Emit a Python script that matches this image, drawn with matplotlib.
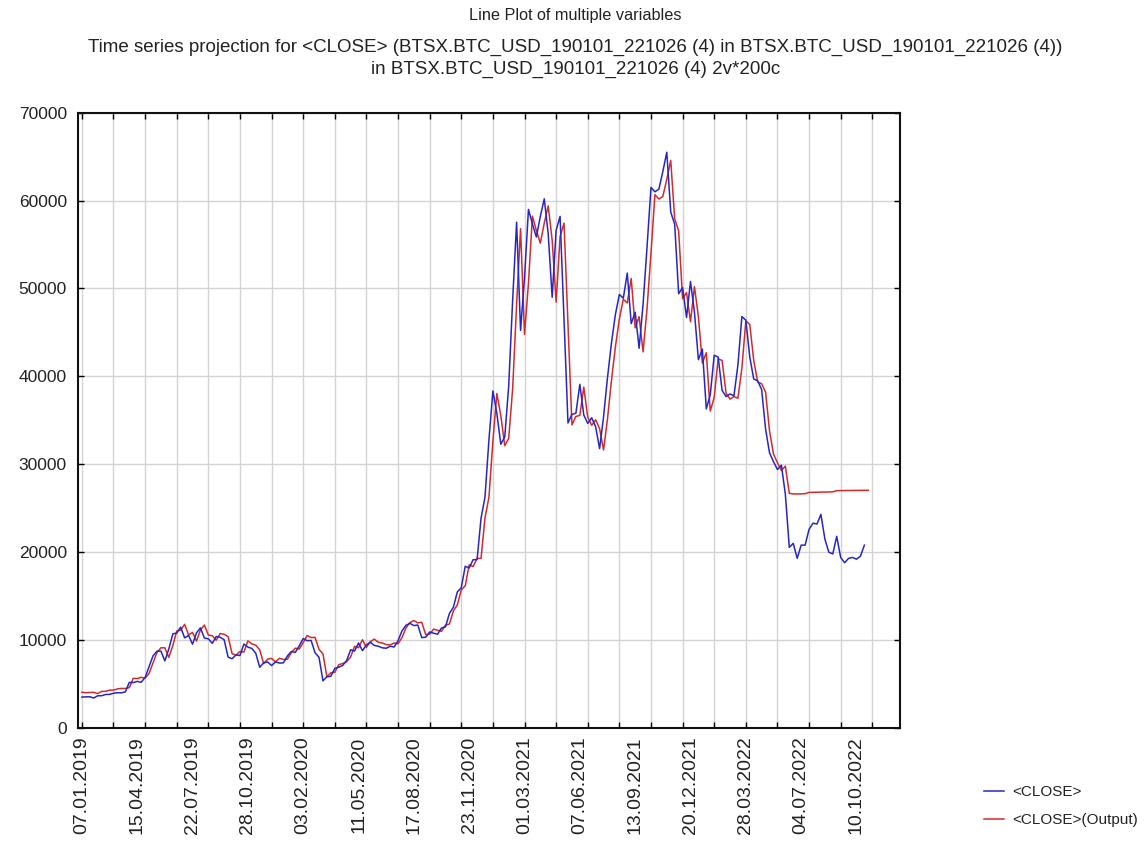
import numpy as np
import matplotlib
matplotlib.use("Agg")
import matplotlib.pyplot as plt

# weekly <CLOSE>, one value per case (week starting 07.01.2019)
close = [
    3510, 3540, 3550, 3410, 3660, 3670, 3810, 3820, 3950, 4010,
    4000, 4100, 5190, 5160, 5300, 5200, 5750, 6970, 8200, 8740,
    8740, 7630, 8990, 10700, 10800, 11470, 10250, 10530, 9530, 10820,
    11390, 10230, 10140, 9630, 10400, 10320, 10040, 8060, 7880, 8310,
    8240, 9550, 9200, 9050, 8500, 6900, 7420, 7510, 7100, 7520,
    7380, 7410, 8190, 8700, 8600, 9340, 10170, 9930, 9960, 8560,
    8040, 5360, 5830, 5880, 6780, 6910, 7120, 7680, 8900, 8750,
    9670, 8790, 9460, 9750, 9390, 9300, 9120, 9070, 9300, 9210,
    9930, 11050, 11680, 11910, 11650, 11710, 10280, 10330, 10920, 10780,
    10670, 11380, 11500, 13030, 13740, 15480, 15960, 18400, 18200, 19150,
    19150, 23860, 26270, 32780, 38350, 35790, 32280, 33110, 38900, 48700,
    57540, 45240, 51200, 59000, 57350, 55850, 58200, 60200, 56200, 49000,
    56620, 58200, 46400, 34700, 35680, 35800, 39100, 35600, 34650, 35290,
    34260, 31780, 35400, 39870, 43800, 47050, 49320, 48900, 51750, 46000,
    47300, 43200, 48200, 54700, 61500, 61000, 61300, 63300, 65500, 58700,
    57300, 49400, 50100, 46700, 50800, 47300, 41900, 43100, 36300, 37900,
    42400, 42200, 38400, 37700, 38000, 37800, 41300, 46800, 46400, 42200,
    39700, 39500, 38500, 34000, 31300, 30300, 29400, 29900, 26600, 20550,
    21000, 19300, 20800, 20800, 22600, 23300, 23200, 24300, 21500, 20000,
    19800, 21800, 19400, 18800, 19300, 19400, 19200, 19550, 20800,
]

# model output for <CLOSE>, 200 cases
close_output = [
    4060, 4010, 4040, 4050, 3910, 4160, 4170, 4300, 4310, 4440,
    4500, 4490, 4590, 5650, 5620, 5760, 5660, 6200, 7390, 8590,
    9120, 9120, 8030, 9360, 11030, 11130, 11790, 10590, 10870, 9890,
    11150, 11710, 10570, 10490, 9990, 10740, 10660, 10390, 8460, 8280,
    8700, 8630, 9910, 9570, 9420, 8880, 7320, 7830, 7920, 7520,
    7930, 7790, 7820, 8580, 9080, 8980, 9700, 10520, 10280, 10310,
    8940, 8440, 5820, 6280, 6330, 7200, 7330, 7540, 8080, 9280,
    9130, 10030, 9170, 9820, 10110, 9750, 9670, 9490, 9440, 9670,
    9580, 10280, 11380, 11990, 12220, 11960, 12020, 10620, 10670, 11250,
    11110, 11000, 11700, 11820, 13310, 14000, 15700, 16170, 18560, 18360,
    19290, 19290, 23890, 26250, 32610, 38050, 35550, 32120, 32930, 38590,
    48160, 56800, 44780, 50600, 58220, 56610, 55150, 57440, 59400, 55490,
    48450, 55900, 57440, 45910, 34480, 35440, 35560, 38780, 35360, 34430,
    35060, 34050, 31630, 35170, 39530, 43370, 46550, 48770, 48360, 51140,
    45520, 46790, 42790, 47670, 54020, 60670, 60180, 60470, 62420, 64570,
    57930, 56560, 48840, 49530, 46210, 50210, 46790, 41520, 42690, 36050,
    37610, 42000, 41810, 38100, 37410, 37710, 37510, 40930, 46300, 45910,
    41810, 39370, 39170, 38200, 33800, 31160, 30180, 29300, 29790, 26700,
    26620, 26620, 26630, 26650, 26800, 26810, 26820, 26830, 26840, 26850,
    26860, 27000, 27010, 27010, 27020, 27020, 27030, 27030, 27040, 27040,
]

# case names shown on the x axis (every 14th case)
case_labels = [
    "07.01.2019", "15.04.2019", "22.07.2019", "28.10.2019", "03.02.2020",
    "11.05.2020", "17.08.2020", "23.11.2020", "01.03.2021", "07.06.2021",
    "13.09.2021", "20.12.2021", "28.03.2022", "04.07.2022", "10.10.2022",
]
label_step = 14

plt.rcParams["font.family"] = ["Liberation Sans", "DejaVu Sans"]
INK = "#222222"

fig = plt.figure(figsize=(11.46, 8.41), dpi=100)
ax = fig.add_axes([0.068, 0.1344, 0.7173, 0.7316])

x_close = np.arange(1, len(close) + 1)
x_out = np.arange(1, len(close_output) + 1)
ln1, = ax.plot(x_close, close, color="#2626c8", linewidth=1.1, zorder=3)
ln2, = ax.plot(x_out, close_output, color="#d42a2a", linewidth=1.1, zorder=2)

ax.set_xlim(0, 208)
ax.set_ylim(0, 70000)

# grid every 8 cases, case names every 14
ax.xaxis.remove_overlapping_locs = False
ax.set_xticks(np.arange(1, 208, 8))
ax.set_xticklabels([])
label_pos = np.arange(1, 1 + label_step * len(case_labels), label_step)
ax.set_xticks(label_pos, minor=True)
ax.set_xticklabels(case_labels, minor=True, rotation=90, fontsize=14, color=INK)
ax.tick_params(axis="x", which="minor", length=0, pad=6)
ax.tick_params(axis="x", which="major", direction="in", length=4,
               top=True, width=1.0)

ax.set_yticks(np.arange(0, 70001, 10000))
ax.set_yticklabels([f"{v:d}" for v in range(0, 70001, 10000)],
                   fontsize=12.5, color=INK)
ax.tick_params(axis="y", direction="in", length=4, right=True, width=1.0, pad=8)

ax.grid(True, which="major", color="#d4d4d4", linewidth=1.0)
ax.set_axisbelow(True)
for sp in ax.spines.values():
    sp.set_linewidth(1.5)
    sp.set_color("#111111")

fig.text(0.502, 0.982, "Line Plot of multiple variables", ha="center",
         va="center", fontsize=11.7, color=INK)
fig.text(0.502, 0.944,
         "Time series projection for <CLOSE> (BTSX.BTC_USD_190101_221026 (4) "
         "in BTSX.BTC_USD_190101_221026 (4))",
         ha="center", va="center", fontsize=13.5, color=INK)
fig.text(0.502, 0.918, "in BTSX.BTC_USD_190101_221026 (4) 2v*200c",
         ha="center", va="center", fontsize=13.5, color=INK)

fig.legend([ln1, ln2], ["<CLOSE>", "<CLOSE>(Output)"], loc="upper left",
           bbox_to_anchor=(0.859, 0.066), frameon=False, fontsize=11,
           handlelength=1.3, handletextpad=0.5, labelspacing=0.9,
           borderpad=0, borderaxespad=0, labelcolor=INK)

fig.savefig("out.png", dpi=100)
